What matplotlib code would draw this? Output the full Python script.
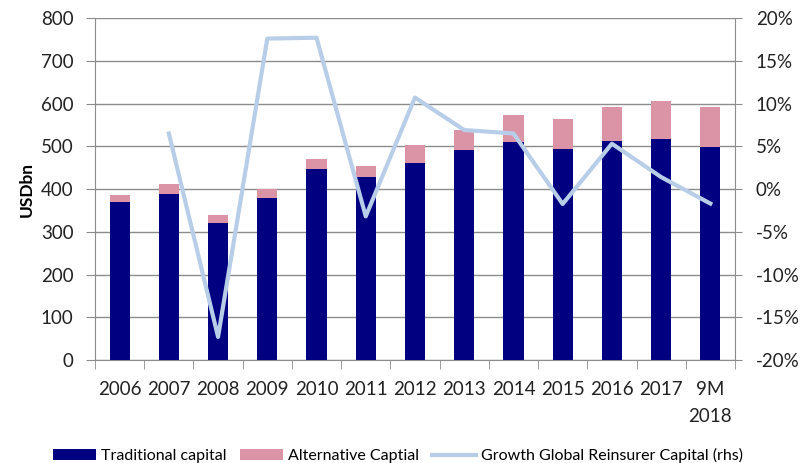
import matplotlib
matplotlib.use("Agg")
import matplotlib.pyplot as plt
import numpy as np
from matplotlib.ticker import FuncFormatter, FixedLocator

categories = ["2006", "2007", "2008", "2009", "2010", "2011", "2012", "2013",
              "2014", "2015", "2016", "2017", "9M\n2018"]
traditional = [370, 388, 321, 378, 446, 427, 462, 491, 511, 494, 513, 516, 498]
alternative = [15, 23, 18, 21, 25, 28, 41, 47, 62, 70, 80, 90, 95]
growth = [np.nan, 6.5, -17.3, 17.6, 17.7, -3.2, 10.7, 6.9, 6.5, -1.75, 5.3, 1.4, -1.7]

plt.rcParams['font.family'] = ['Lato', 'DejaVu Sans']

fig = plt.figure(figsize=(8.05, 4.63), dpi=100)
ax = fig.add_axes([0.118, 0.2225, 0.795, 0.7385])
x = np.arange(len(categories))

navy = "#000080"
pink = "#DB93A6"
lblue = "#B8CEE8"
grid = "#8C8C8C"
txt = "#222222"

ax.bar(x, traditional, width=0.41, color=navy, label="Traditional capital", zorder=3)
ax.bar(x, alternative, width=0.41, bottom=traditional, color=pink,
       label="Alternative Captial", zorder=3)
ax.set_ylim(0, 800)
ax.set_xlim(-0.5, len(categories) - 0.5)
ax.set_yticks(range(0, 801, 100))
ax.yaxis.grid(True, color=grid, linewidth=1.0, zorder=0)
ax.set_axisbelow(True)
ax.set_xticks(x)
ax.set_xticklabels(categories, fontsize=13.5, color=txt, linespacing=1.7,
                   va='top')
ax.xaxis.set_minor_locator(FixedLocator(np.arange(-0.5, len(categories), 1.0)))
ax.tick_params(axis='x', which='major', length=0, pad=15)
ax.tick_params(axis='x', which='minor', length=6.5, color=grid, direction='out')
ax.tick_params(axis='y', length=6.5, color=grid, labelsize=13.5, labelcolor=txt, pad=9)
ax.set_ylabel("USDbn", fontsize=12.5, fontweight='bold', labelpad=4)
for s in ["top", "right"]:
    ax.spines[s].set_visible(False)
for s in ["left", "bottom"]:
    ax.spines[s].set_color(grid)

ax2 = ax.twinx()
ax2.plot(x, growth, color=lblue, linewidth=3, label="Growth Global Reinsurer Capital (rhs)",
         zorder=4)
ax2.set_ylim(-20, 20)
ax2.set_yticks(range(-20, 21, 5))
ax2.yaxis.set_major_formatter(FuncFormatter(lambda v, p: f"{int(v)}%"))
ax2.tick_params(axis='y', length=5, color=grid, labelsize=13.5, labelcolor=txt, pad=10)
for s in ["top", "left", "bottom"]:
    ax2.spines[s].set_visible(False)
ax2.spines["right"].set_color(grid)

h1, l1 = ax.get_legend_handles_labels()
h2, l2 = ax2.get_legend_handles_labels()
fig.legend(h1 + h2, l1 + l2, loc="center", bbox_to_anchor=(0.494, 0.016), ncol=3,
           frameon=False, fontsize=11.5, handlelength=2.75, handleheight=0.7,
           columnspacing=0.8, handletextpad=0.3, borderpad=0.1)

fig.savefig("out.png", dpi=100)
